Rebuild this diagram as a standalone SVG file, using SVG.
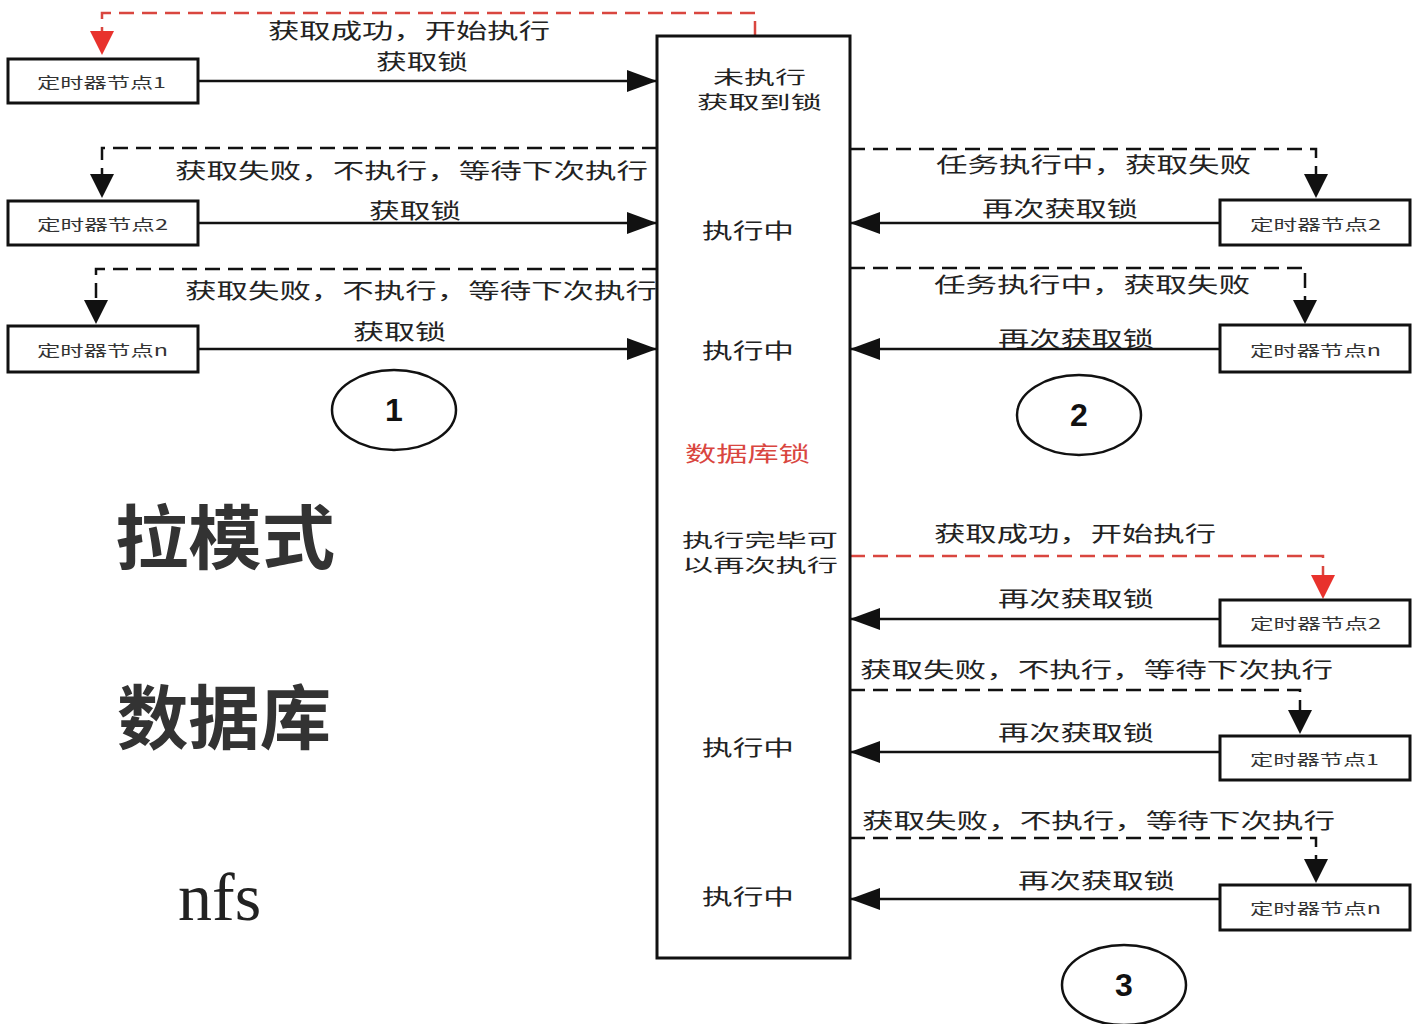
<svg xmlns="http://www.w3.org/2000/svg" width="1412" height="1024" viewBox="0 0 1412 1024">
<style>
.box{fill:#fff;stroke:#111;stroke-width:3}
.nl{font-family:"Noto Sans CJK SC","Liberation Sans",sans-serif;font-size:15px;fill:#333;dominant-baseline:central}
.lb{font-family:"Noto Sans CJK SC","Liberation Sans",sans-serif;font-size:21px;fill:#222;dominant-baseline:central}
.sm{font-size:18px}
.ln{stroke:#111;stroke-width:2.5;fill:none}
.dl{stroke:#111;stroke-width:2.5;fill:none;stroke-dasharray:15 8}
.rl{stroke:#d9463f;stroke-width:2.5;fill:none;stroke-dasharray:15 8}
.circ{fill:#fff;stroke:#111;stroke-width:2.5}
.num{font-family:"Liberation Sans",sans-serif;font-size:32px;font-weight:bold;fill:#111;text-anchor:middle;dominant-baseline:central}
.big{font-family:"Noto Sans CJK SC",sans-serif;font-size:70px;font-weight:bold;fill:#333}
</style>
<defs>
<marker id="ah" markerUnits="userSpaceOnUse" markerWidth="30" markerHeight="22" refX="30" refY="11" orient="auto"><path d="M0,0 L30,11 L0,22 Z" fill="#111"/></marker>
<marker id="dh" markerUnits="userSpaceOnUse" markerWidth="24" markerHeight="24" refX="24" refY="12" orient="auto"><path d="M0,0 L24,12 L0,24 Z" fill="#111"/></marker>
<marker id="rh" markerUnits="userSpaceOnUse" markerWidth="24" markerHeight="24" refX="24" refY="12" orient="auto"><path d="M0,0 L24,12 L0,24 Z" fill="#e8322d"/></marker>
</defs>
<rect width="1412" height="1024" fill="#fff"/>

<g id="connectors">
<path class="rl" d="M755,36 V13 H102 V33"/>
<path d="M102,31 V55" stroke="none" marker-end="url(#rh)"/>
<line class="ln" x1="198" y1="81" x2="657" y2="81" marker-end="url(#ah)"/>
<path class="dl" d="M657,148 H102 V178"/>
<path d="M102,175 V198" stroke="none" marker-end="url(#dh)"/>
<line class="ln" x1="198" y1="223" x2="657" y2="223" marker-end="url(#ah)"/>
<path class="dl" d="M657,269 H96 V303"/>
<path d="M96,300 V324" stroke="none" marker-end="url(#dh)"/>
<line class="ln" x1="198" y1="349" x2="657" y2="349" marker-end="url(#ah)"/>

<path class="dl" d="M850,149 H1316 V177"/>
<path d="M1316,174 V198" stroke="none" marker-end="url(#dh)"/>
<line class="ln" x1="1220" y1="223" x2="850" y2="223" marker-end="url(#ah)"/>
<path class="dl" d="M850,268 H1305 V303"/>
<path d="M1305,300 V324" stroke="none" marker-end="url(#dh)"/>
<line class="ln" x1="1220" y1="349" x2="850" y2="349" marker-end="url(#ah)"/>
<path class="rl" d="M850,556 H1323 V578"/>
<path d="M1323,575 V599" stroke="none" marker-end="url(#rh)"/>
<line class="ln" x1="1220" y1="619" x2="850" y2="619" marker-end="url(#ah)"/>
<path class="dl" d="M850,690 H1300 V713"/>
<path d="M1300,710 V734" stroke="none" marker-end="url(#dh)"/>
<line class="ln" x1="1220" y1="752" x2="850" y2="752" marker-end="url(#ah)"/>
<path class="dl" d="M850,838 H1316 V862"/>
<path d="M1316,859 V883" stroke="none" marker-end="url(#dh)"/>
<line class="ln" x1="1220" y1="899" x2="850" y2="899" marker-end="url(#ah)"/>

<text class="lb" x="268" y="29" textLength="282" lengthAdjust="spacingAndGlyphs">获取成功，开始执行</text>
<text class="lb" x="376" y="60" textLength="92" lengthAdjust="spacingAndGlyphs">获取锁</text>
<text class="lb" x="175" y="169" textLength="473" lengthAdjust="spacingAndGlyphs">获取失败，不执行，等待下次执行</text>
<text class="lb" x="369" y="209" textLength="92" lengthAdjust="spacingAndGlyphs">获取锁</text>
<text class="lb" x="185" y="289" textLength="472" lengthAdjust="spacingAndGlyphs">获取失败，不执行，等待下次执行</text>
<text class="lb" x="353" y="330" textLength="93" lengthAdjust="spacingAndGlyphs">获取锁</text>

<text class="lb" x="936" y="163" textLength="315" lengthAdjust="spacingAndGlyphs">任务执行中，获取失败</text>
<text class="lb" x="982" y="207" textLength="156" lengthAdjust="spacingAndGlyphs">再次获取锁</text>
<text class="lb" x="934" y="283" textLength="316" lengthAdjust="spacingAndGlyphs">任务执行中，获取失败</text>
<text class="lb" x="998" y="337" textLength="156" lengthAdjust="spacingAndGlyphs">再次获取锁</text>
<text class="lb" x="934" y="532" textLength="282" lengthAdjust="spacingAndGlyphs">获取成功，开始执行</text>
<text class="lb" x="998" y="597" textLength="156" lengthAdjust="spacingAndGlyphs">再次获取锁</text>
<text class="lb" x="860" y="668" textLength="473" lengthAdjust="spacingAndGlyphs">获取失败，不执行，等待下次执行</text>
<text class="lb" x="998" y="731" textLength="156" lengthAdjust="spacingAndGlyphs">再次获取锁</text>
<text class="lb" x="862" y="819" textLength="473" lengthAdjust="spacingAndGlyphs">获取失败，不执行，等待下次执行</text>
<text class="lb" x="1018" y="879" textLength="157" lengthAdjust="spacingAndGlyphs">再次获取锁</text>
</g>

<g id="lock">
<rect class="box" x="657" y="36" width="193" height="922"/>
<text class="lb sm" x="713" y="76" textLength="93" lengthAdjust="spacingAndGlyphs">未执行</text>
<text class="lb sm" x="697" y="101" textLength="125" lengthAdjust="spacingAndGlyphs">获取到锁</text>
<text class="lb" x="702" y="229" textLength="92" lengthAdjust="spacingAndGlyphs">执行中</text>
<text class="lb" x="702" y="349" textLength="92" lengthAdjust="spacingAndGlyphs">执行中</text>
<text class="lb" x="685" y="452" textLength="125" lengthAdjust="spacingAndGlyphs" style="fill:#d9463f">数据库锁</text>
<text class="lb sm" x="682" y="539" textLength="156" lengthAdjust="spacingAndGlyphs">执行完毕可</text>
<text class="lb sm" x="682" y="564" textLength="156" lengthAdjust="spacingAndGlyphs">以再次执行</text>
<text class="lb" x="702" y="746" textLength="92" lengthAdjust="spacingAndGlyphs">执行中</text>
<text class="lb" x="702" y="895" textLength="92" lengthAdjust="spacingAndGlyphs">执行中</text>
</g>

<g id="left-node1"><rect class="box" x="8" y="59" width="190" height="44"/><text class="nl" x="37" y="81" textLength="129" lengthAdjust="spacingAndGlyphs">定时器节点1</text></g>
<g id="left-node2"><rect class="box" x="8" y="201" width="190" height="44"/><text class="nl" x="37" y="223" textLength="131" lengthAdjust="spacingAndGlyphs">定时器节点2</text></g>
<g id="left-noden"><rect class="box" x="8" y="326" width="190" height="46"/><text class="nl" x="37" y="349" textLength="131" lengthAdjust="spacingAndGlyphs">定时器节点n</text></g>

<g id="r2-node2"><rect class="box" x="1220" y="200" width="190" height="45"/><text class="nl" x="1250" y="223" textLength="131" lengthAdjust="spacingAndGlyphs">定时器节点2</text></g>
<g id="r2-noden"><rect class="box" x="1220" y="325" width="190" height="47"/><text class="nl" x="1250" y="349" textLength="131" lengthAdjust="spacingAndGlyphs">定时器节点n</text></g>
<g id="r3-node2"><rect class="box" x="1220" y="600" width="190" height="46"/><text class="nl" x="1250" y="622" textLength="131" lengthAdjust="spacingAndGlyphs">定时器节点2</text></g>
<g id="r3-node1"><rect class="box" x="1220" y="736" width="190" height="44"/><text class="nl" x="1250" y="758" textLength="129" lengthAdjust="spacingAndGlyphs">定时器节点1</text></g>
<g id="r3-noden"><rect class="box" x="1220" y="885" width="190" height="45"/><text class="nl" x="1250" y="907" textLength="131" lengthAdjust="spacingAndGlyphs">定时器节点n</text></g>

<g id="circle1"><ellipse class="circ" cx="394" cy="410" rx="62" ry="40"/><text class="num" x="394" y="410">1</text></g>
<g id="circle2"><ellipse class="circ" cx="1079" cy="415" rx="62" ry="40"/><text class="num" x="1079" y="415">2</text></g>
<g id="circle3"><ellipse class="circ" cx="1124" cy="985" rx="62" ry="40"/><text class="num" x="1124" y="985">3</text></g>

<g id="side-text">
<text class="big" x="115" y="564" textLength="220" lengthAdjust="spacingAndGlyphs">拉模式</text>
<text class="big" x="117" y="744" textLength="214" lengthAdjust="spacingAndGlyphs">数据库</text>
<text x="178" y="920" style="font-family:'Liberation Serif',serif;font-size:68px;fill:#222">nfs</text>
</g>
</svg>
